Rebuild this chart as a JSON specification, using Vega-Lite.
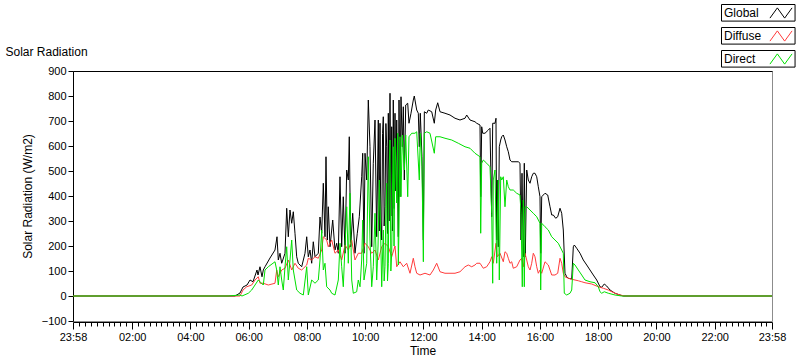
{
  "$schema": "https://vega.github.io/schema/vega-lite/v6.json",
  "autosize": {"type": "none"},
  "width": 699,
  "height": 250,
  "padding": {"left": 73, "top": 71, "right": 28, "bottom": 40},
  "background": "white",
  "datasets": {
    "global": [
      {"t":-0.033,"v":0},{"t":5.529,"v":0},{"t":5.701,"v":12},{"t":5.804,"v":36},{"t":5.941,"v":44},{"t":6.044,"v":64},{"t":6.147,"v":57},{"t":6.284,"v":104},{"t":6.319,"v":84},{"t":6.387,"v":117},{"t":6.456,"v":77},{"t":6.501,"v":104},{"t":6.559,"v":117},{"t":6.731,"v":152},{"t":6.902,"v":184},{"t":6.971,"v":237},{"t":7.016,"v":144},{"t":7.074,"v":171},{"t":7.132,"v":131},{"t":7.246,"v":171},{"t":7.304,"v":351},{"t":7.359,"v":237},{"t":7.417,"v":344},{"t":7.476,"v":291},{"t":7.531,"v":337},{"t":7.589,"v":251},{"t":7.647,"v":157},{"t":7.702,"v":131},{"t":7.819,"v":117},{"t":7.932,"v":171},{"t":7.991,"v":237},{"t":8.046,"v":157},{"t":8.104,"v":184},{"t":8.162,"v":131},{"t":8.217,"v":217},{"t":8.276,"v":157},{"t":8.389,"v":171},{"t":8.447,"v":316},{"t":8.506,"v":251},{"t":8.561,"v":451},{"t":8.619,"v":237},{"t":8.653,"v":557},{"t":8.698,"v":224},{"t":8.732,"v":357},{"t":8.791,"v":197},{"t":8.884,"v":304},{"t":8.962,"v":184},{"t":9.021,"v":211},{"t":9.076,"v":171},{"t":9.134,"v":477},{"t":9.192,"v":197},{"t":9.247,"v":397},{"t":9.306,"v":171},{"t":9.364,"v":504},{"t":9.419,"v":464},{"t":9.453,"v":637},{"t":9.502,"v":197},{"t":9.570,"v":331},{"t":9.649,"v":171},{"t":9.728,"v":251},{"t":9.797,"v":317},{"t":9.879,"v":477},{"t":9.914,"v":571},{"t":9.958,"v":171},{"t":9.993,"v":571},{"t":10.051,"v":464},{"t":10.106,"v":784},{"t":10.164,"v":597},{"t":10.223,"v":197},{"t":10.277,"v":531},{"t":10.336,"v":704},{"t":10.394,"v":237},{"t":10.449,"v":704},{"t":10.48,"v":260},{"t":10.508,"v":691},{"t":10.535,"v":300},{"t":10.566,"v":224},{"t":10.595,"v":650},{"t":10.621,"v":717},{"t":10.65,"v":280},{"t":10.679,"v":357},{"t":10.71,"v":690},{"t":10.738,"v":597},{"t":10.765,"v":250},{"t":10.793,"v":731},{"t":10.82,"v":300},{"t":10.851,"v":811},{"t":10.88,"v":320},{"t":10.909,"v":677},{"t":10.935,"v":260},{"t":10.964,"v":784},{"t":10.995,"v":350},{"t":11.023,"v":731},{"t":11.05,"v":420},{"t":11.081,"v":704},{"t":11.136,"v":237},{"t":11.160,"v":784},{"t":11.194,"v":397},{"t":11.229,"v":797},{"t":11.273,"v":597},{"t":11.308,"v":757},{"t":11.342,"v":464},{"t":11.390,"v":764},{"t":11.459,"v":771},{"t":11.503,"v":691},{"t":11.572,"v":731},{"t":11.651,"v":784},{"t":11.685,"v":800},{"t":11.768,"v":744},{"t":11.823,"v":731},{"t":11.857,"v":597},{"t":11.891,"v":731},{"t":11.949,"v":557},{"t":11.996,"v":224},{"t":12.030,"v":737},{"t":12.111,"v":731},{"t":12.166,"v":744},{"t":12.283,"v":737},{"t":12.372,"v":691},{"t":12.420,"v":744},{"t":12.489,"v":773},{"t":12.568,"v":737},{"t":12.739,"v":731},{"t":12.911,"v":724},{"t":13.083,"v":711},{"t":13.254,"v":704},{"t":13.426,"v":711},{"t":13.484,"v":724},{"t":13.598,"v":704},{"t":13.769,"v":697},{"t":13.828,"v":691},{"t":13.941,"v":684},{"t":13.965,"v":397},{"t":13.999,"v":677},{"t":14.034,"v":651},{"t":14.113,"v":651},{"t":14.226,"v":664},{"t":14.284,"v":671},{"t":14.343,"v":317},{"t":14.377,"v":691},{"t":14.456,"v":691},{"t":14.490,"v":711},{"t":14.514,"v":224},{"t":14.535,"v":464},{"t":14.569,"v":197},{"t":14.604,"v":597},{"t":14.652,"v":624},{"t":14.686,"v":637},{"t":14.741,"v":644},{"t":14.799,"v":624},{"t":14.858,"v":597},{"t":14.913,"v":577},{"t":14.971,"v":544},{"t":15.029,"v":537},{"t":15.143,"v":537},{"t":15.256,"v":537},{"t":15.314,"v":531},{"t":15.349,"v":224},{"t":15.383,"v":491},{"t":15.428,"v":157},{"t":15.462,"v":531},{"t":15.496,"v":157},{"t":15.545,"v":504},{"t":15.599,"v":464},{"t":15.658,"v":451},{"t":15.716,"v":477},{"t":15.771,"v":491},{"t":15.829,"v":491},{"t":15.888,"v":477},{"t":15.943,"v":437},{"t":16.001,"v":397},{"t":16.025,"v":171},{"t":16.060,"v":397},{"t":16.114,"v":404},{"t":16.173,"v":411},{"t":16.266,"v":404},{"t":16.345,"v":357},{"t":16.403,"v":324},{"t":16.458,"v":324},{"t":16.540,"v":311},{"t":16.609,"v":317},{"t":16.688,"v":351},{"t":16.746,"v":331},{"t":16.801,"v":264},{"t":16.859,"v":91},{"t":16.918,"v":77},{"t":16.973,"v":71},{"t":17.090,"v":68},{"t":17.145,"v":197},{"t":17.179,"v":204},{"t":17.261,"v":191},{"t":17.375,"v":171},{"t":17.488,"v":144},{"t":17.605,"v":124},{"t":17.718,"v":104},{"t":17.831,"v":84},{"t":17.948,"v":64},{"t":18.061,"v":37},{"t":18.120,"v":35},{"t":18.209,"v":48},{"t":18.291,"v":40},{"t":18.405,"v":24},{"t":18.576,"v":11},{"t":18.748,"v":4},{"t":18.861,"v":0},{"t":23.967,"v":0}
    ],
    "diffuse": [
      {"t":-0.033,"v":0},{"t":5.701,"v":0},{"t":5.804,"v":24},{"t":5.931,"v":37},{"t":6.102,"v":44},{"t":6.216,"v":64},{"t":6.329,"v":77},{"t":6.387,"v":51},{"t":6.501,"v":51},{"t":6.672,"v":44},{"t":6.902,"v":51},{"t":6.961,"v":104},{"t":7.016,"v":77},{"t":7.132,"v":104},{"t":7.246,"v":111},{"t":7.359,"v":144},{"t":7.476,"v":104},{"t":7.589,"v":131},{"t":7.702,"v":111},{"t":7.819,"v":104},{"t":7.991,"v":124},{"t":8.046,"v":151},{"t":8.162,"v":144},{"t":8.276,"v":157},{"t":8.389,"v":151},{"t":8.506,"v":184},{"t":8.561,"v":237},{"t":8.677,"v":224},{"t":8.732,"v":197},{"t":8.849,"v":224},{"t":8.962,"v":171},{"t":9.076,"v":184},{"t":9.192,"v":144},{"t":9.306,"v":204},{"t":9.419,"v":184},{"t":9.536,"v":224},{"t":9.649,"v":144},{"t":9.762,"v":171},{"t":9.879,"v":171},{"t":9.993,"v":211},{"t":10.106,"v":197},{"t":10.223,"v":171},{"t":10.336,"v":184},{"t":10.449,"v":144},{"t":10.566,"v":197},{"t":10.679,"v":211},{"t":10.793,"v":197},{"t":10.909,"v":157},{"t":11.023,"v":200},{"t":11.081,"v":117},{"t":11.194,"v":137},{"t":11.308,"v":117},{"t":11.424,"v":131},{"t":11.538,"v":91},{"t":11.651,"v":151},{"t":11.709,"v":117},{"t":11.768,"v":91},{"t":11.881,"v":84},{"t":12.053,"v":91},{"t":12.224,"v":84},{"t":12.338,"v":104},{"t":12.454,"v":131},{"t":12.568,"v":97},{"t":12.739,"v":91},{"t":12.911,"v":91},{"t":13.083,"v":91},{"t":13.254,"v":97},{"t":13.426,"v":117},{"t":13.539,"v":124},{"t":13.656,"v":117},{"t":13.769,"v":124},{"t":13.828,"v":131},{"t":13.941,"v":131},{"t":14.054,"v":111},{"t":14.171,"v":117},{"t":14.284,"v":137},{"t":14.343,"v":157},{"t":14.398,"v":131},{"t":14.490,"v":211},{"t":14.535,"v":157},{"t":14.628,"v":171},{"t":14.741,"v":137},{"t":14.799,"v":177},{"t":14.858,"v":171},{"t":14.913,"v":151},{"t":14.971,"v":131},{"t":15.029,"v":137},{"t":15.084,"v":111},{"t":15.201,"v":117},{"t":15.314,"v":144},{"t":15.373,"v":151},{"t":15.428,"v":117},{"t":15.486,"v":171},{"t":15.545,"v":144},{"t":15.599,"v":117},{"t":15.658,"v":104},{"t":15.716,"v":131},{"t":15.771,"v":171},{"t":15.829,"v":157},{"t":15.888,"v":117},{"t":15.943,"v":91},{"t":16.001,"v":104},{"t":16.060,"v":91},{"t":16.173,"v":137},{"t":16.286,"v":124},{"t":16.345,"v":104},{"t":16.403,"v":84},{"t":16.516,"v":84},{"t":16.609,"v":91},{"t":16.688,"v":151},{"t":16.746,"v":131},{"t":16.801,"v":91},{"t":16.859,"v":77},{"t":16.973,"v":71},{"t":17.090,"v":67},{"t":17.203,"v":64},{"t":17.316,"v":61},{"t":17.433,"v":57},{"t":17.546,"v":53},{"t":17.776,"v":48},{"t":18.003,"v":37},{"t":18.175,"v":31},{"t":18.346,"v":24},{"t":18.576,"v":11},{"t":18.748,"v":4},{"t":18.920,"v":0},{"t":23.967,"v":0}
    ],
    "direct": [
      {"t":-0.033,"v":0},{"t":5.289,"v":0},{"t":5.701,"v":4},{"t":5.769,"v":0},{"t":5.986,"v":11},{"t":6.102,"v":24},{"t":6.329,"v":64},{"t":6.501,"v":44},{"t":6.559,"v":104},{"t":6.672,"v":117},{"t":6.902,"v":137},{"t":6.961,"v":104},{"t":7.016,"v":44},{"t":7.074,"v":117},{"t":7.132,"v":64},{"t":7.187,"v":24},{"t":7.246,"v":117},{"t":7.304,"v":197},{"t":7.359,"v":64},{"t":7.417,"v":144},{"t":7.476,"v":224},{"t":7.531,"v":104},{"t":7.589,"v":64},{"t":7.647,"v":24},{"t":7.761,"v":11},{"t":7.874,"v":4},{"t":7.991,"v":117},{"t":8.046,"v":4},{"t":8.162,"v":64},{"t":8.276,"v":51},{"t":8.389,"v":64},{"t":8.447,"v":144},{"t":8.506,"v":264},{"t":8.561,"v":104},{"t":8.619,"v":131},{"t":8.677,"v":37},{"t":8.791,"v":24},{"t":8.849,"v":11},{"t":8.962,"v":4},{"t":9.076,"v":64},{"t":9.134,"v":211},{"t":9.192,"v":117},{"t":9.247,"v":37},{"t":9.364,"v":357},{"t":9.419,"v":131},{"t":9.477,"v":411},{"t":9.536,"v":64},{"t":9.591,"v":11},{"t":9.707,"v":17},{"t":9.762,"v":64},{"t":9.821,"v":37},{"t":9.879,"v":144},{"t":9.914,"v":304},{"t":9.958,"v":64},{"t":10.051,"v":131},{"t":10.106,"v":557},{"t":10.164,"v":224},{"t":10.223,"v":37},{"t":10.277,"v":117},{"t":10.336,"v":331},{"t":10.394,"v":64},{"t":10.44,"v":200},{"t":10.484,"v":464},{"t":10.52,"v":300},{"t":10.566,"v":37},{"t":10.621,"v":264},{"t":10.65,"v":60},{"t":10.679,"v":117},{"t":10.71,"v":350},{"t":10.738,"v":451},{"t":10.765,"v":60},{"t":10.793,"v":131},{"t":10.82,"v":500},{"t":10.851,"v":624},{"t":10.88,"v":100},{"t":10.909,"v":171},{"t":10.935,"v":420},{"t":10.964,"v":597},{"t":10.99,"v":200},{"t":11.023,"v":631},{"t":11.081,"v":372},{"t":11.115,"v":651},{"t":11.136,"v":124},{"t":11.160,"v":276},{"t":11.194,"v":637},{"t":11.229,"v":397},{"t":11.273,"v":644},{"t":11.342,"v":504},{"t":11.390,"v":644},{"t":11.459,"v":397},{"t":11.503,"v":637},{"t":11.596,"v":651},{"t":11.709,"v":651},{"t":11.768,"v":657},{"t":11.857,"v":464},{"t":11.891,"v":651},{"t":11.949,"v":517},{"t":11.996,"v":137},{"t":12.030,"v":651},{"t":12.111,"v":657},{"t":12.224,"v":651},{"t":12.372,"v":571},{"t":12.420,"v":637},{"t":12.568,"v":637},{"t":12.739,"v":631},{"t":12.969,"v":624},{"t":13.196,"v":611},{"t":13.426,"v":597},{"t":13.598,"v":591},{"t":13.769,"v":571},{"t":13.941,"v":557},{"t":13.965,"v":251},{"t":13.999,"v":531},{"t":14.054,"v":544},{"t":14.171,"v":531},{"t":14.284,"v":517},{"t":14.343,"v":331},{"t":14.377,"v":51},{"t":14.398,"v":464},{"t":14.456,"v":504},{"t":14.514,"v":131},{"t":14.569,"v":464},{"t":14.604,"v":64},{"t":14.652,"v":477},{"t":14.686,"v":464},{"t":14.741,"v":477},{"t":14.799,"v":357},{"t":14.858,"v":464},{"t":14.913,"v":437},{"t":14.971,"v":424},{"t":15.084,"v":424},{"t":15.201,"v":411},{"t":15.314,"v":404},{"t":15.349,"v":331},{"t":15.393,"v":37},{"t":15.428,"v":384},{"t":15.462,"v":37},{"t":15.496,"v":357},{"t":15.545,"v":357},{"t":15.658,"v":344},{"t":15.771,"v":331},{"t":15.888,"v":317},{"t":16.001,"v":291},{"t":16.025,"v":24},{"t":16.060,"v":291},{"t":16.173,"v":277},{"t":16.286,"v":264},{"t":16.403,"v":237},{"t":16.516,"v":224},{"t":16.629,"v":211},{"t":16.746,"v":184},{"t":16.801,"v":171},{"t":16.835,"v":11},{"t":16.918,"v":4},{"t":17.031,"v":11},{"t":17.090,"v":24},{"t":17.145,"v":131},{"t":17.203,"v":124},{"t":17.316,"v":104},{"t":17.433,"v":84},{"t":17.546,"v":64},{"t":17.718,"v":57},{"t":17.890,"v":53},{"t":18.003,"v":37},{"t":18.061,"v":17},{"t":18.120,"v":11},{"t":18.209,"v":17},{"t":18.346,"v":11},{"t":18.576,"v":4},{"t":18.806,"v":0},{"t":23.967,"v":0}
    ]
  },
  "layer": [
    {
      "data": {"name": "global"},
      "mark": {"type": "line", "strokeWidth": 1, "clip": true},
      "encoding": {
        "x": {
          "field": "t", "type": "quantitative",
          "scale": {"domain": [-0.0333, 23.9667], "nice": false, "zero": false},
          "axis": {
            "orient": "bottom", "title": "Time", "titleFontSize": 12, "titleFontWeight": "normal", "titlePadding": 3, "titleColor": "#000",
            "offset": 1, "domainColor": "#000", "tickColor": "#000",
            "values": [-0.0333, 0.17, 0.373, 0.577, 0.78, 0.983, 1.187, 1.39, 1.593, 1.797, 2,2.2,2.4,2.6,2.8,3,3.2,3.4,3.6,3.8,4,4.2,4.4,4.6,4.8,5,5.2,5.4,5.6,5.8,6,6.2,6.4,6.6,6.8,7,7.2,7.4,7.6,7.8,8,8.2,8.4,8.6,8.8,9,9.2,9.4,9.6,9.8,10,10.2,10.4,10.6,10.8,11,11.2,11.4,11.6,11.8,12,12.2,12.4,12.6,12.8,13,13.2,13.4,13.6,13.8,14,14.2,14.4,14.6,14.8,15,15.2,15.4,15.6,15.8,16,16.2,16.4,16.6,16.8,17,17.2,17.4,17.6,17.8,18,18.2,18.4,18.6,18.8,19,19.2,19.4,19.6,19.8,20,20.2,20.4,20.6,20.8,21,21.2,21.4,21.6,21.8,22, 22.197, 22.393, 22.59, 22.787, 22.983, 23.18, 23.377, 23.573, 23.77, 23.9667],
            "labelExpr": "datum.value < 0 || datum.value > 23.9 ? '23:58' : (abs(datum.value - 2*round(datum.value/2)) < 0.001 ? (datum.value < 9 ? '0' : '') + round(datum.value) + ':00' : '')",
            "tickSize": {"condition": {"test": "datum.value < 0 || datum.value > 23.9 || abs(datum.value - 2*round(datum.value/2)) < 0.001", "value": 7}, "value": 4},
            "labelOverlap": false, "labelFlush": false, "labelBound": false,
            "labelFontSize": 11, "labelColor": "#000", "labelPadding": 2, "grid": false
          }
        },
        "y": {
          "field": "v", "type": "quantitative",
          "scale": {"domain": [-100, 900], "nice": false, "zero": false},
          "axis": {
            "title": "Solar Radiation (W/m2)", "titleFontSize": 12, "titleFontWeight": "normal", "titleColor": "#000", "titlePadding": 7,
            "values": [-100, 0, 100, 200, 300, 400, 500, 600, 700, 800, 900],
            "domainColor": "#000", "tickColor": "#000", "tickSize": 5,
            "labelFontSize": 11, "labelColor": "#000", "labelPadding": 2, "labelFlush": false, "grid": false
          }
        },
        "color": {
          "datum": "Global", "type": "nominal",
          "scale": {"domain": ["Global", "Diffuse", "Direct"], "range": ["#000000", "#ff3b3b", "#00e000"]},
          "legend": {
            "encode": {
              "entries": {"update": {"stroke": {"value": "#000"}, "strokeWidth": {"value": 1}, "width": {"value": 42}, "height": {"value": 17}, "fill": {"value": "white"}}},
              "symbols": {"update": {"x": {"value": 60}, "fill": {"value": "transparent"}}},
              "labels": {"update": {"x": {"value": 3}, "align": {"value": "left"}}}
            }
          }
        }
      }
    },
    {
      "data": {"name": "diffuse"},
      "mark": {"type": "line", "strokeWidth": 1, "clip": true},
      "encoding": {
        "x": {"field": "t", "type": "quantitative", "axis": {"orient": "top", "title": "Solar Radiation", "titleX": -68, "titleY": -16, "titleAlign": "left", "titleAnchor": null, "titleBaseline": "alphabetic", "titleFontSize": 12, "titleFontWeight": "normal", "titleColor": "#000", "labels": false, "ticks": false, "domain": true, "domainColor": "#000", "grid": false}},
        "y": {"field": "v", "type": "quantitative", "axis": null},
        "color": {"datum": "Diffuse", "type": "nominal"}
      }
    },
    {
      "data": {"name": "direct"},
      "mark": {"type": "line", "strokeWidth": 1, "clip": true},
      "encoding": {
        "x": {"field": "t", "type": "quantitative", "axis": null},
        "y": {"field": "v", "type": "quantitative", "axis": null},
        "color": {"datum": "Direct", "type": "nominal"}
      }
    }
  ],
  "resolve": {"axis": {"x": "independent", "y": "independent"}},
  "config": {
    "font": "Liberation Sans",
    "view": {"stroke": "#8c8c8c"},
    "axis": {"grid": false},
    "legend": {
      "orient": "none", "legendX": 648, "legendY": -67, "direction": "vertical",
      "title": null, "labelFontSize": 12, "labelColor": "#000",
      "symbolType": "M-1.3,0.6L-0.43,-0.6L0.43,0.6L1.3,-0.6", "symbolSize": 289, "symbolStrokeWidth": 1,
      "rowPadding": 6
    }
  }
}
